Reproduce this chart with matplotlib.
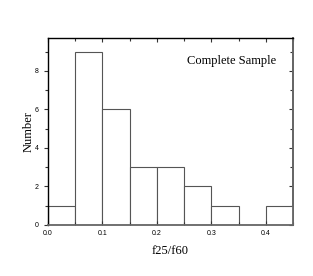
import matplotlib.pyplot as plt
import numpy as np
from matplotlib.ticker import MultipleLocator

bin_left = [0.0, 0.05, 0.10, 0.15, 0.20, 0.25, 0.30, 0.35, 0.40]
counts = [1, 9, 6, 3, 3, 2, 1, 0, 1]
bin_width = 0.05

fig = plt.figure(figsize=(3.13, 2.76), dpi=100)
ax = fig.add_axes([0.153, 0.185, 0.783, 0.677])

ax.bar(bin_left, counts, width=bin_width, align="edge",
       facecolor="white", edgecolor="#555555", linewidth=0.8)

ax.set_xlim(0, 0.45)
ax.set_ylim(0, 9.7)
ax.xaxis.set_major_locator(MultipleLocator(0.1))
ax.xaxis.set_minor_locator(MultipleLocator(0.05))
ax.yaxis.set_major_locator(MultipleLocator(2))
ax.yaxis.set_minor_locator(MultipleLocator(1))
ax.xaxis.set_major_formatter(plt.FuncFormatter(lambda v, p: f"{v:.1f}"))

# inward ticks on bottom/top, outward on the left
ax.tick_params(axis="x", which="both", direction="in", top=True)
ax.tick_params(axis="y", which="both", direction="out", right=False)
ax.tick_params(which="both", labelsize=5, width=0.8, color="#333333")
ax.tick_params(which="major", length=3)
ax.tick_params(which="minor", length=2)

# right side: inward ticks, no labels
sec = ax.secondary_yaxis("right")
sec.yaxis.set_major_locator(MultipleLocator(2))
sec.yaxis.set_minor_locator(MultipleLocator(1))
sec.tick_params(which="both", direction="in", labelright=False, width=0.8, color="#333333")
sec.tick_params(which="major", length=3)
sec.tick_params(which="minor", length=2)
sec.spines["right"].set_linewidth(1.3)
sec.spines["right"].set_color("#666666")

for lab in ax.get_xticklabels() + ax.get_yticklabels():
    lab.set_family("Liberation Sans")
for side in ["top", "left"]:
    ax.spines[side].set_linewidth(1.0)
for side in ["bottom", "right"]:
    ax.spines[side].set_linewidth(1.3)
    ax.spines[side].set_color("#666666")

serif = "Liberation Serif"
ax.set_xlabel("f25/f60", family=serif, fontsize=9, labelpad=6)
ax.set_ylabel("Number", family=serif, fontsize=9, labelpad=0)
ax.text(0.93, 0.88, "Complete Sample", transform=ax.transAxes,
        ha="right", va="center", family=serif, fontsize=9)

fig.savefig("out.png", dpi=100)
